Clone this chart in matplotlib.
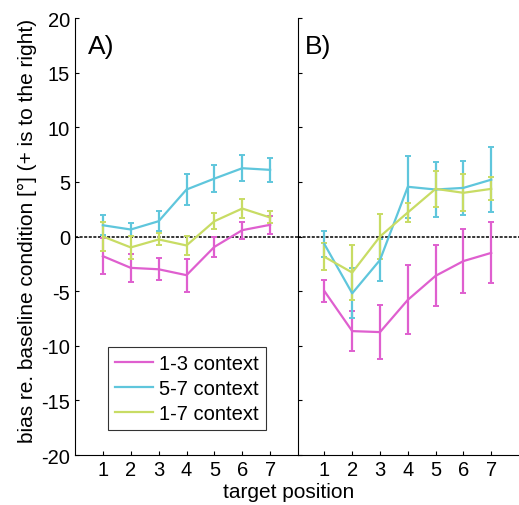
import matplotlib
matplotlib.use("Agg")
import matplotlib.pyplot as plt
from matplotlib.lines import Line2D

positions = [1, 2, 3, 4, 5, 6, 7]
labels = ["1-3 context", "5-7 context", "1-7 context"]
colors = ["#df5fcf", "#5fc6dc", "#c8dc64"]

# panel A
a_13 = [-1.8, -2.87, -3.0, -3.54, -0.95, 0.58, 1.07]
a_13_err = [1.65, 1.3, 1.0, 1.5, 0.95, 0.77, 0.85]
a_57 = [1.03, 0.64, 1.4, 4.3, 5.3, 6.25, 6.1]
a_57_err = [0.9, 0.6, 0.9, 1.4, 1.2, 1.2, 1.1]
a_17 = [0.0, -1.0, -0.27, -0.82, 1.4, 2.56, 1.74]
a_17_err = [1.3, 1.05, 0.55, 0.9, 0.75, 0.85, 0.55]

# panel B
b_13 = [-5.0, -8.66, -8.75, -5.8, -3.6, -2.25, -1.5]
b_13_err = [1.0, 1.8, 2.45, 3.15, 2.8, 2.9, 2.8]
b_57 = [-0.7, -5.2, -2.15, 4.55, 4.3, 4.45, 5.2]
b_57_err = [1.2, 2.3, 1.9, 2.85, 2.5, 2.5, 3.0]
b_17 = [-1.86, -3.3, 0.0, 2.2, 4.36, 4.0, 4.36]
b_17_err = [1.25, 2.5, 2.05, 0.9, 1.65, 1.7, 1.05]

yticks = [-20, -15, -10, -5, 0, 5, 10, 15, 20]

plt.rcParams['font.family'] = ['Liberation Sans', 'DejaVu Sans']
plt.rcParams['axes.unicode_minus'] = False

fig = plt.figure(figsize=(5.19, 5.06), dpi=100)
W, H = 519.0, 506.0
ax1 = fig.add_axes([75 / W, 1 - 456 / H, 223 / W, 437 / H])
ax2 = fig.add_axes([298 / W, 1 - 456 / H, 221 / W, 437 / H])

panels = [
    (ax1, [a_13, a_57, a_17], [a_13_err, a_57_err, a_17_err], "A)", (0.0, 8.0), 0.058),
    (ax2, [b_13, b_57, b_17], [b_13_err, b_57_err, b_17_err], "B)", (0.05, 8.0), 0.03),
]

for ax, series, errs, tag, xl, tx in panels:
    ax.axhline(0, color="black", linestyle=(0, (2, 1)), linewidth=1.1, zorder=1)
    for vals, err, col in zip(series, errs, colors):
        ax.errorbar(positions, vals, yerr=err, color=col, linewidth=1.6,
                    elinewidth=1.6, capsize=2.2, capthick=1.4, zorder=2)
    ax.set_xlim(*xl)
    ax.set_ylim(-20, 20)
    ax.set_xticks(positions)
    ax.set_yticks(yticks)
    ax.tick_params(direction="in", length=3, labelsize=14.5, width=0.8)
    ax.spines["top"].set_visible(False)
    ax.spines["right"].set_visible(False)
    ax.text(tx, 0.935, tag, transform=ax.transAxes, fontsize=19, va="center")

ax2.set_yticklabels([])
ax1.set_ylabel("bias re. baseline condition [°] (+ is to the right)", fontsize=15)
ax1.yaxis.set_label_coords(-0.17, 0.515)

handles = [Line2D([], [], color=c, linewidth=1.6) for c in colors]
leg = ax1.legend(handles, labels, loc="lower left", bbox_to_anchor=(0.147, 0.057), fontsize=14.5,
                 fancybox=False, edgecolor="black", handlelength=1.9,
                 borderaxespad=0, labelspacing=0.3, borderpad=0.35, handletextpad=0.3)
leg.get_frame().set_linewidth(0.8)

fig.text(289 / W, 1 - 493 / H, "target position", ha="center", va="center", fontsize=15)

fig.savefig("out.png", dpi=100)
